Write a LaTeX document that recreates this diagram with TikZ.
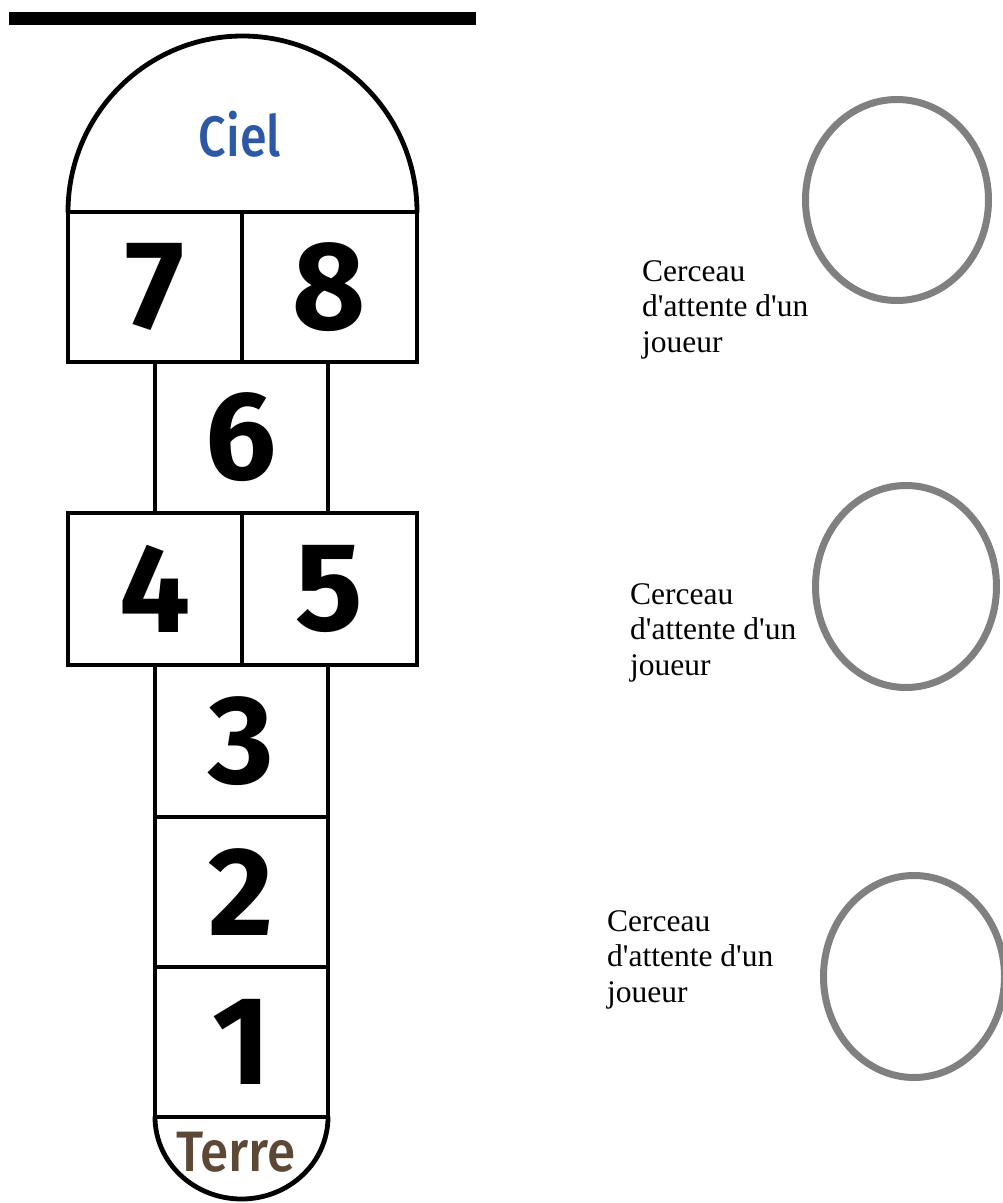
\documentclass[tikz,border=0pt]{standalone}
\usepackage{fontspec}
\usepackage{graphicx}
\usetikzlibrary{shapes.geometric}
\newfontfamily\labelfont{Liberation Serif}
\newfontfamily\hopfont{Fira Sans}
\newfontfamily\midfont{Fira Sans Medium}
\definecolor{cielblue}{RGB}{44,88,166}
\definecolor{terrebrown}{RGB}{92,72,52}
\definecolor{hoopgray}{RGB}{128,128,128}
\begin{document}
\begin{tikzpicture}[x=1pt,y=-1pt,
  cell/.style={draw=black, line width=4.8pt, rectangle, inner sep=0pt,
    font={\hopfont\bfseries\fontsize{126}{126}\selectfont}},
  hoop/.style={ellipse, draw=hoopgray, line width=7pt, inner sep=0pt},
  caption/.style={font={\labelfont\fontsize{31.5}{35.5}\selectfont}, align=left,
    anchor=north west, inner sep=0pt},
  hopline/.style={line width=4.8pt, line join=round, line cap=round}]
\useasboundingbox (0,0) rectangle (1003,1203);
\clip (0,0) rectangle (1003,1203);
\fill[white] (0,0) rectangle (1003,1203);

% top bar
\fill[black] (9,12) rectangle (476,25);

% sky dome
\draw[hopline] (68,212) arc[start angle=180, end angle=0, x radius=174.5pt, y radius=176pt];
\node[text=cielblue, font={\midfont\fontsize{57}{57}\selectfont}, inner sep=0pt]
  (ciel) at (240,134) {\scalebox{0.85}[1]{Ciel}};

% cells
\node[cell, minimum width=174pt, minimum height=150pt] (c7) at (155,287) {7};
\node[cell, minimum width=175pt, minimum height=150pt] (c8) at (329.5,287) {8};
\node[cell, minimum width=173pt, minimum height=151pt] (c6) at (241.5,437.5) {6};
\node[cell, minimum width=174pt, minimum height=152pt] (c4) at (155,589) {4};
\node[cell, minimum width=175pt, minimum height=152pt] (c5) at (329.5,589) {5};
\node[cell, minimum width=173pt, minimum height=152pt] (c3) at (241.5,741) {3};
\node[cell, minimum width=173pt, minimum height=150pt] (c2) at (241.5,892) {2};
\node[cell, minimum width=173pt, minimum height=150pt] (c1) at (241.5,1042) {1};

% earth
\draw[hopline] (155,1117) arc[start angle=180, end angle=360, x radius=86.5pt, y radius=82pt];
\node[text=terrebrown, font={\midfont\fontsize{57}{57}\selectfont}, inner sep=0pt]
  (terre) at (236,1152) {\scalebox{0.9}[1]{Terre}};

% hoops
\node[hoop, minimum width=183pt, minimum height=201pt] (h1) at (897,200) {};
\node[hoop, minimum width=181pt, minimum height=202pt] (h2) at (906,586.5) {};
\node[hoop, minimum width=181pt, minimum height=202pt] (h3) at (914,976.5) {};

% captions
\node[caption] (t1) at (642,260) {Cerceau\\d'attente d'un\\joueur};
\node[caption] (t2) at (630,583) {Cerceau\\d'attente d'un\\joueur};
\node[caption] (t3) at (607,910) {Cerceau\\d'attente d'un\\joueur};
\end{tikzpicture}
\end{document}
